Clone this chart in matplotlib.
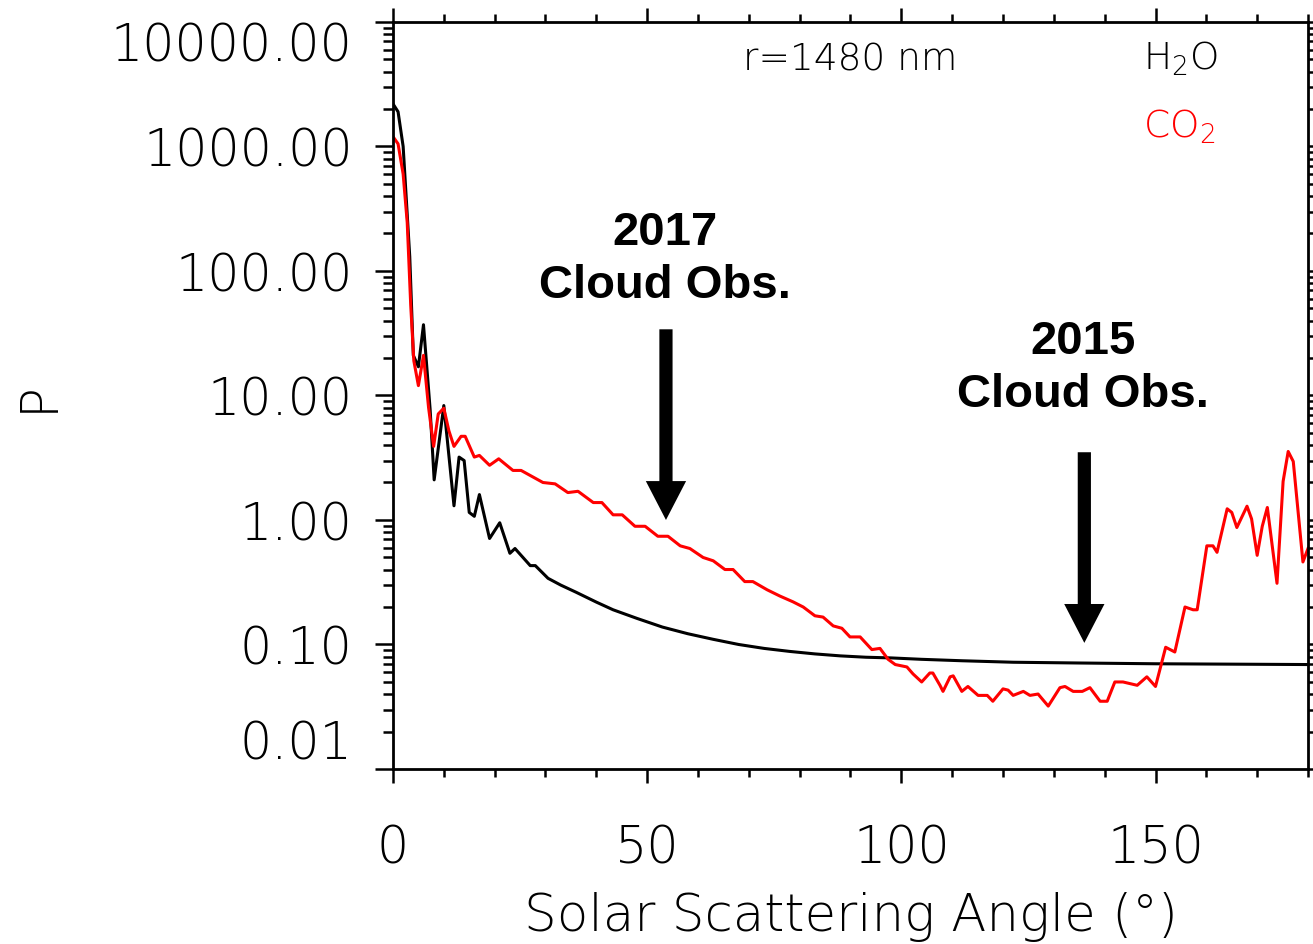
import numpy as np
import matplotlib
matplotlib.use('Agg')
import matplotlib.pyplot as plt
from matplotlib.ticker import FixedLocator, LogLocator, MultipleLocator, NullFormatter

# phase function P vs solar scattering angle (deg), r = 1480 nm
h2o_angle = [0, 1, 2, 3.3, 4, 5, 6, 7.3, 8.1, 10, 12, 13, 14, 15, 16, 17, 19, 21,
             23, 24, 27, 28, 30.5, 33, 36, 40, 43.3, 48, 53, 58, 63, 68, 73, 78,
             83, 88, 93, 98, 104, 112, 122, 135, 150, 180]
h2o_p = [2200, 1900, 1000, 130, 21, 17, 37, 7.8, 2.1, 8.3, 1.3, 3.2, 3.0, 1.15,
         1.07, 1.6, 0.71, 0.95, 0.54, 0.59, 0.43, 0.43, 0.34, 0.30, 0.263, 0.219,
         0.19, 0.162, 0.138, 0.122, 0.110, 0.100, 0.093, 0.088, 0.084, 0.081,
         0.079, 0.078, 0.076, 0.074, 0.072, 0.071, 0.070, 0.069]

co2_angle = [0, 1, 2, 2.8, 3.5, 4.1, 5, 6, 7, 8, 8.9, 10, 11, 12, 13.4, 14.2, 16,
             17, 19, 20.8, 23.6, 25.2, 29.5, 31.9, 34.4, 36.4, 39.4, 41.1, 43.3,
             45.1, 47.6, 49.6, 52.1, 54.1, 56.5, 58.4, 61, 63, 65.3, 66.9, 69.2,
             70.8, 73.6, 76.1, 78.7, 80.7, 83, 84.6, 86.6, 88.3, 89.9, 91.9, 94.2,
             95.8, 97.4, 98.8, 101.1, 102.3, 104, 105.6, 106.2, 107.6, 108.2,
             109.6, 110.2, 111.9, 113.1, 115.1, 116.9, 118, 120, 121, 122, 124,
             125.3, 126.9, 128.9, 131.2, 132.2, 133.8, 135.6, 137.1, 139.1, 140.5,
             142, 143.6, 146.4, 148.3, 150, 152, 153.8, 155.8, 157.4, 158.2, 160.1,
             161.3, 162.1, 164.1, 165, 166, 168, 168.9, 170, 171, 172, 173.9, 175.1,
             176.1, 177.1, 179, 180]
co2_p = [1200, 1050, 600, 245, 52, 19, 12, 21, 8.0, 3.9, 7.1, 7.9, 5.2, 3.9, 4.7,
         4.7, 3.2, 3.3, 2.75, 3.1, 2.5, 2.5, 2.0, 1.95, 1.66, 1.7, 1.38, 1.38,
         1.1, 1.1, 0.89, 0.89, 0.74, 0.74, 0.62, 0.59, 0.50, 0.47, 0.40, 0.40,
         0.32, 0.32, 0.275, 0.245, 0.22, 0.20, 0.17, 0.166, 0.141, 0.135, 0.115,
         0.115, 0.091, 0.093, 0.076, 0.069, 0.066, 0.058, 0.050, 0.059, 0.059,
         0.047, 0.042, 0.055, 0.056, 0.042, 0.046, 0.039, 0.039, 0.035, 0.044,
         0.043, 0.039, 0.042, 0.039, 0.040, 0.032, 0.045, 0.046, 0.042, 0.042,
         0.045, 0.035, 0.035, 0.050, 0.050, 0.047, 0.055, 0.046, 0.095, 0.087,
         0.20, 0.19, 0.19, 0.62, 0.62, 0.55, 1.23, 1.15, 0.87, 1.29, 1.02, 0.52,
         0.89, 1.26, 0.31, 2.04, 3.55, 2.95, 0.46, 0.59]

ytick_vals = [0.01, 0.1, 1, 10, 100, 1000, 10000]
ytick_labels = ['0.01', '0.10', '1.00', '10.00', '100.00', '1000.00', '10000.00']
xtick_vals = [0, 50, 100, 150]

# observation markers: angle, arrow tail P, arrow tip P
obs_2017 = (53.7, 34.0, 1.0)
obs_2015 = (136.0, 3.5, 0.103)

plt.rcParams['font.family'] = ['DejaVu Sans']
plt.rcParams['font.weight'] = 'light'
plt.rcParams['axes.labelweight'] = 'light'
plt.rcParams['mathtext.default'] = 'regular'

fig = plt.figure(figsize=(13.13, 9.45), dpi=100)
ax = fig.add_axes([0.2993, 0.1852, 0.6969, 0.7905])

ax.plot(h2o_angle, h2o_p, color='black', lw=2.2)
ax.plot(co2_angle, co2_p, color='red', lw=2.2)

ax.set_yscale('log')
ax.set_xlim(0, 180)
ax.set_ylim(0.01, 10000)

ax.yaxis.set_major_locator(FixedLocator(ytick_vals))
ax.set_yticklabels(ytick_labels)
ax.yaxis.set_minor_locator(LogLocator(base=10, subs=np.arange(2, 10), numticks=20))
ax.yaxis.set_minor_formatter(NullFormatter())
ax.set_xticks(xtick_vals)
ax.xaxis.set_minor_locator(MultipleLocator(10))

for s in ax.spines.values():
    s.set_linewidth(2)

ax.tick_params(axis='both', which='both', direction='out', top=True, right=True,
               width=1.8, labelsize=36.5)
ax.tick_params(axis='y', which='major', length=13, pad=16)
ax.tick_params(axis='y', which='minor', length=7)
ax.tick_params(axis='x', which='major', length=10, pad=29)
ax.tick_params(axis='x', which='minor', length=6)

ylabels = ax.get_yticklabels()
ylabels[0].set_va('bottom')
ylabels[-1].set_va('top')

ax.set_xlabel('Solar Scattering Angle (°)', fontsize=37, va='center')
ax.xaxis.set_label_coords(0.5, -0.197)
ax.set_ylabel('P', fontsize=37, va='center')
ax.yaxis.set_label_coords(-0.387, 0.5)

ax.text(0.5, 0.937, 'r=1480 nm', transform=ax.transAxes, ha='center',
        va='baseline', fontsize=27)
ax.text(0.8197, 0.937, r'H$_2$O', transform=ax.transAxes, ha='left',
        va='baseline', fontsize=27)
ax.text(0.8197, 0.847, r'CO$_2$', transform=ax.transAxes, ha='left',
        va='baseline', fontsize=27, color='red')

bold = dict(family='Liberation Sans', weight='bold', fontsize=34,
            ha='center', va='center', linespacing=1.27)
ax.text(53.5, 125, '2017\nCloud Obs.', **bold)
ax.text(135.7, 16.8, '2015\nCloud Obs.', **bold)

arrow = dict(arrowstyle='simple,head_length=2.8,head_width=2.9,tail_width=0.95',
             mutation_scale=10, color='black', lw=0, shrinkA=0, shrinkB=0)
for ang, tail, tip in (obs_2017, obs_2015):
    ax.annotate('', xy=(ang, tip), xytext=(ang, tail), arrowprops=arrow)

fig.savefig('out.png', dpi=100)
